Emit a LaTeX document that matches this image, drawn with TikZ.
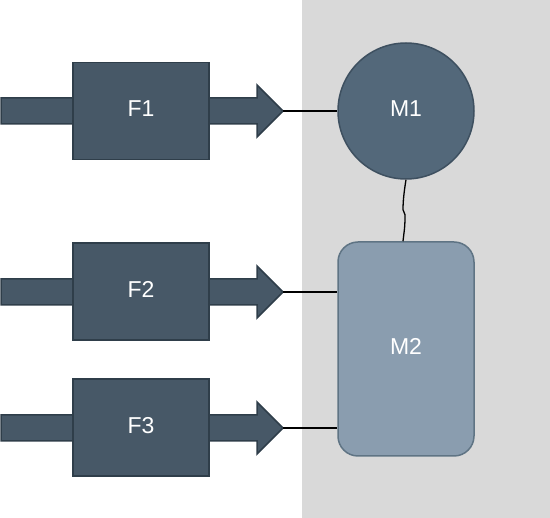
\documentclass[tikz,border=0pt]{standalone}
\usepackage{fontspec}
\setmainfont{Liberation Sans}
\usetikzlibrary{calc,positioning}

\definecolor{bggray}{HTML}{D9D9D9}
\definecolor{ffill}{HTML}{475867}
\definecolor{fline}{HTML}{2F3E4A}
\definecolor{mfill}{HTML}{53687A}
\definecolor{mline}{HTML}{3E5060}
\definecolor{mlfill}{HTML}{8A9DAF}
\definecolor{mlline}{HTML}{5F7484}

\begin{document}
\begin{tikzpicture}[x=1pt,y=-1pt]

  \tikzstyle{block} = [draw=fline, fill=ffill, rectangle, minimum width=136pt, minimum height=97pt, line width=1.5pt, text=white, text depth=5pt, font=\fontsize{23}{27}\selectfont]
  \tikzstyle{fat} = [draw=fline, fill=ffill, line width=1.5pt, line join=miter]
  \tikzstyle{link} = [draw=black, line width=1.3pt]

  \useasboundingbox (0,0) rectangle (550,518);
  \fill[bggray] (302,0) rectangle (550,518);

  % arrow tips
  \coordinate (tip1) at (283,111);
  \coordinate (tip2) at (283,292);
  \coordinate (tip3) at (283,428);

  \filldraw[fat] (tip1) ++(-282,-13) -- ++(256,0) -- ++(0,-13) -- (tip1) -- ++(-26,26) -- ++(0,-13) -- ++(-256,0) -- cycle;
  \filldraw[fat] (tip2) ++(-282,-13) -- ++(256,0) -- ++(0,-13) -- (tip2) -- ++(-26,26) -- ++(0,-13) -- ++(-256,0) -- cycle;
  \filldraw[fat] (tip3) ++(-282,-13) -- ++(256,0) -- ++(0,-13) -- (tip3) -- ++(-26,26) -- ++(0,-13) -- ++(-256,0) -- cycle;

  \node[block] (f1) at (141,111) {F1};
  \node[block] (f2) at (141,291.5) {F2};
  \node[block] (f3) at (141,427.5) {F3};

  \node[circle, draw=mline, fill=mfill, line width=1.5pt, minimum size=136pt, inner sep=0pt, text=white, text depth=5pt, font=\fontsize{23}{27}\selectfont] (m1) at (406,111) {M1};
  \node[rectangle, rounded corners=20pt, draw=mlline, fill=mlfill, line width=1.5pt, minimum width=136pt, minimum height=214pt, text=white, text depth=5pt, font=\fontsize{23}{27}\selectfont] (m2) at (406,349) {M2};

  \draw[link] (tip1) -- (m1);
  \draw[link] (tip2) -- (tip2 -| m2.west);
  \draw[link] (tip3) -- (tip3 -| m2.west);
  \draw[link] (m1.south) .. controls +(-2,12) and +(0,-8) .. ++(-3,30) -- ++(2,5) .. controls +(0,10) .. ($(m2.north)+(-3,0)$);

\end{tikzpicture}
\end{document}
